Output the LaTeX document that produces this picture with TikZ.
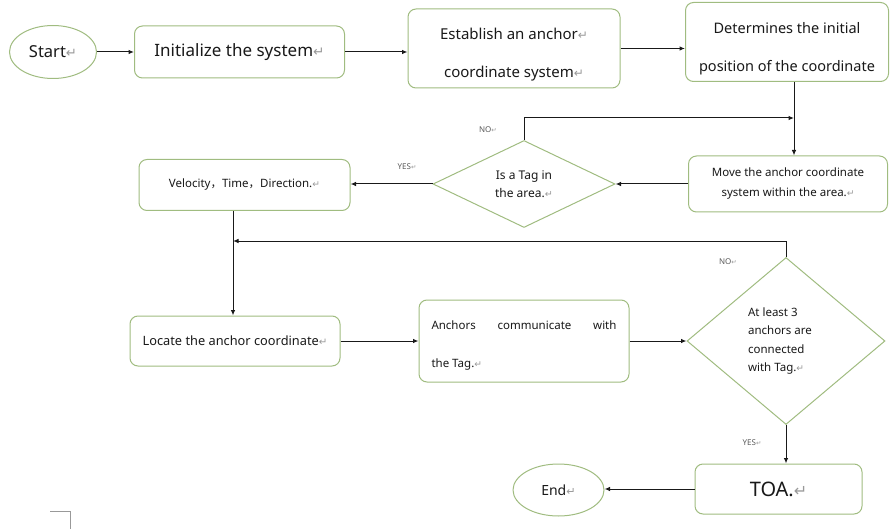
\documentclass[tikz,border=0pt]{standalone}
\usepackage{fontspec}
\setmainfont{Noto Sans}
\newfontfamily\dvfont{DejaVu Sans}
\newfontfamily\cjkfont{Noto Sans CJK SC}
\usetikzlibrary{shapes.geometric,arrows.meta}
\definecolor{bordercol}{RGB}{160,188,128}
\definecolor{inkcol}{RGB}{25,25,25}
\newcommand{\retmark}{{\dvfont\color{black!40}\scalebox{0.8}{↵}}}
\newcommand{\fwc}{{\cjkfont ，}}
\tikzset{
  procbox/.style={draw=bordercol, line width=1pt, rounded corners=8pt, fill=white,
    text=inkcol, inner sep=0pt, align=center},
  termnode/.style={draw=bordercol, line width=1pt, ellipse, fill=white,
    text=inkcol, inner sep=0pt},
  decnode/.style={draw=bordercol, line width=1pt, diamond, fill=white,
    text=inkcol, inner sep=0pt},
  boxtext/.style={text=inkcol, inner sep=0pt},
  flowarrow/.style={draw=inkcol, line width=1pt, -{Latex[length=5.5pt,width=4.5pt]}},
  branchlabel/.style={text=black!65, font=\fontsize{8}{9}\selectfont, inner sep=0pt}
}
\begin{document}
\begin{tikzpicture}[x=1pt,y=-1pt]
\useasboundingbox (0,0) rectangle (890,529);
% nodes
\node[termnode, minimum width=87pt, minimum height=53pt, font=\fontsize{16.5}{19}\selectfont] (start) at (53,52) {Start\retmark};
\node[procbox, minimum width=210pt, minimum height=52pt, font=\fontsize{17}{20}\selectfont] (init) at (239.5,52) {Initialize the system\retmark};
\node[procbox, minimum width=212pt, minimum height=79pt] (est) at (514,48.5) {};
\node[boxtext, align=center, font=\fontsize{15}{38}\selectfont] (esttext) at (514,55) {Establish an anchor\retmark\\coordinate system\retmark};
\node[procbox, minimum width=203pt, minimum height=79pt] (det) at (787,42) {};
\node[boxtext, align=center, font=\fontsize{14.5}{38}\selectfont] (dettext) at (787,49) {Determines the initial\\position of the coordinate};
\coordinate (m1) at (794,118);
\node[procbox, minimum width=199pt, minimum height=56pt, font=\fontsize{11.5}{20}\selectfont] (move) at (788,184) {Move the anchor coordinate\\system within the area.\retmark};
\node[decnode, minimum width=182pt, minimum height=87pt, align=center, font=\fontsize{12}{18}\selectfont] (d1) at (524,184) {Is a Tag in\\the area.\retmark};
\node[procbox, minimum width=211pt, minimum height=51pt, font=\fontsize{11.5}{14}\selectfont] (vel) at (244.5,185) {Velocity\fwc Time\fwc Direction.\retmark};
\coordinate (m2) at (233,241);
\node[procbox, minimum width=210pt, minimum height=50pt, font=\fontsize{12.8}{15}\selectfont] (loc) at (235,341) {Locate the anchor coordinate\retmark};
\node[procbox, minimum width=210pt, minimum height=82pt] (anc) at (524,341) {};
\node[boxtext, align=left, font=\fontsize{11.5}{38}\selectfont] (anctext) at (524,346) {\makebox[185pt][s]{Anchors communicate with}\\the Tag.\retmark};
\node[decnode, minimum width=198pt, minimum height=167pt] (d2) at (786,341) {};
\node[boxtext, align=left, font=\fontsize{11.5}{18.5}\selectfont] (d2text) at (780,341) {At least 3\\anchors are\\connected\\with Tag.\retmark};
\node[procbox, minimum width=167pt, minimum height=50pt, font=\fontsize{20}{23}\selectfont] (toa) at (778.5,489) {TOA.\retmark};
\node[termnode, minimum width=91pt, minimum height=52pt, font=\fontsize{14}{17}\selectfont] (endn) at (558.5,490) {End\retmark};
% labels
\node[branchlabel] (no1) at (488,130) {NO\retmark};
\node[branchlabel] (yes1) at (407,167) {YES\retmark};
\node[branchlabel] (no2) at (728,262) {NO\retmark};
\node[branchlabel] (yes2) at (752,443) {YES\retmark};
% connectors
\draw[flowarrow] (start.east) -- (start.east -| init.west);
\draw[flowarrow] (init.east) -- (init.east -| est.west);
\draw[flowarrow] (est.east) -- (est.east -| det.west);
\draw[flowarrow] (det.south -| m1) -- (move.north -| m1);
\draw[flowarrow] (d1.north) |- (m1);
\draw[flowarrow] (move.west) -- (d1.east);
\draw[flowarrow] (d1.west) -- (d1.west -| vel.east);
\draw[flowarrow] (vel.south -| m2) -- (loc.north -| m2);
\draw[flowarrow] (d2.north) |- (m2);
\draw[flowarrow] (loc.east) -- (loc.east -| anc.west);
\draw[flowarrow] (anc.east) -- (d2.west);
\draw[flowarrow] (d2.south) -- (d2.south |- toa.north);
\draw[flowarrow] (toa.west) -- (toa.west -| endn.east);
% page corner mark
\draw[black!40, line width=0.6pt] (50,511) -- (70,511) -- (70,529);
\end{tikzpicture}
\end{document}
